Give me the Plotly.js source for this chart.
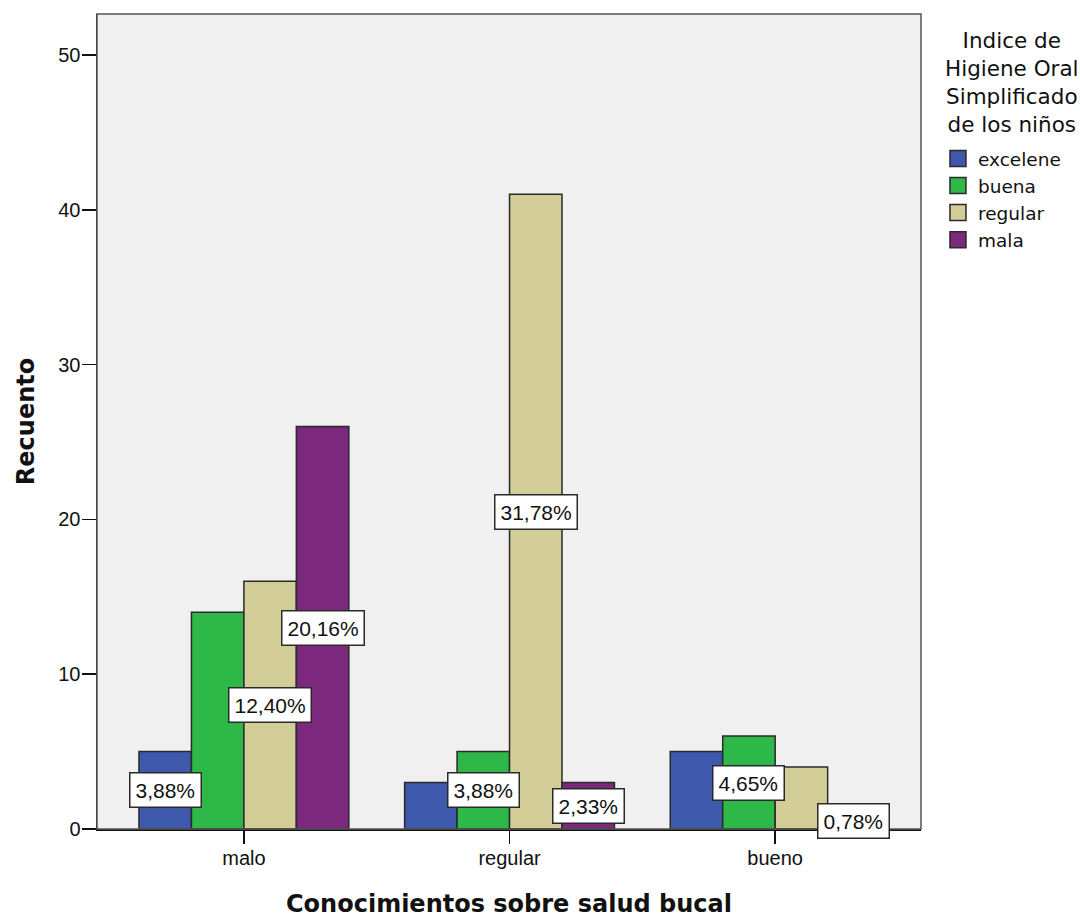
<!DOCTYPE html>
<html>
<head>
<meta charset="utf-8">
<script src="https://cdn.plot.ly/plotly-3.0.1.min.js"></script>
<style>
  html, body { margin: 0; padding: 0; background: #ffffff; }
  #chart { width: 1080px; height: 919px; }
</style>
</head>
<body>
<div id="chart"></div>
<script>
// ---- Data ----
const categories = ['malo', 'regular', 'bueno'];
const seriesNames = ['excelene', 'buena', 'regular', 'mala'];
const excelene = [5, 3, 5];
const buena = [14, 5, 6];
const regularSerie = [16, 41, 4];
const mala = [26, 3, 1];
// which bars carry a visible percentage label (as in the source chart)
const excelenteLabelShown = [true, false, false];
const buenaLabelShown = [false, true, true];
const regularLabelShown = [true, true, false];
const malaLabelShown = [true, true, true];

const legendTitle = 'Indice de<br>Higiene Oral<br>Simplificado<br>de los niños';
const xTitle = 'Conocimientos sobre salud bucal';
const yTitle = 'Recuento';

// ---- Style ----
const colors = ['#3E58AC', '#2EB848', '#D3CE97', '#7C287D'];
const edge = '#2a2a2a';
const bargap = 0.21;

const series = [excelene, buena, regularSerie, mala];
const shown = [excelenteLabelShown, buenaLabelShown, regularLabelShown, malaLabelShown];
const total = series.reduce((s, arr) => s + arr.reduce((a, b) => a + b, 0), 0);

const traces = [];
series.forEach((vals, i) => {
  traces.push({
    type: 'bar',
    name: seriesNames[i],
    x: categories,
    y: vals,
    marker: { color: colors[i], line: { color: edge, width: 1.5 } },
    showlegend: false,
    hoverinfo: 'x+y+name'
  });
});
// legend entries (square swatches)
series.forEach((vals, i) => {
  traces.push({
    type: 'scatter',
    mode: 'markers',
    name: seriesNames[i],
    x: [null],
    y: [null],
    marker: { symbol: 'square', size: 18, color: colors[i], line: { color: edge, width: 1.5 } },
    showlegend: true,
    hoverinfo: 'skip'
  });
});

const nS = series.length;
const w = (1 - bargap) / nS;
const annotations = [];
series.forEach((vals, i) => {
  vals.forEach((v, j) => {
    if (!shown[i][j]) return;
    const pct = (v / total * 100).toFixed(2).replace('.', ',') + '%';
    annotations.push({
      x: j + (i - (nS - 1) / 2) * w,
      y: v / 2,
      xref: 'x', yref: 'y',
      text: pct,
      showarrow: false,
      font: { family: 'Liberation Sans, Arial, sans-serif', size: 21, color: '#111' },
      bgcolor: '#ffffff',
      bordercolor: edge,
      borderwidth: 1.5,
      borderpad: 5,
      xanchor: 'center', yanchor: 'middle'
    });
  });
});
// legend title (centered multi-line, like the source)
annotations.push({
  xref: 'paper', yref: 'paper',
  x: 1.1104, y: 0.9853,
  xanchor: 'center', yanchor: 'top',
  align: 'center',
  showarrow: false,
  text: legendTitle,
  font: { family: 'DejaVu Sans, sans-serif', size: 21.5, color: '#111' }
});

const layout = {
  width: 1080,
  height: 919,
  margin: { l: 97, r: 159, t: 14, b: 90, autoexpand: false },
  paper_bgcolor: '#ffffff',
  plot_bgcolor: '#F0F0F0',
  barmode: 'group',
  bargap: bargap,
  bargroupgap: 0,
  font: { family: 'Liberation Sans, Arial, sans-serif', size: 20, color: '#111' },
  xaxis: {
    type: 'category',
    range: [-0.553, 2.549],
    showgrid: false,
    zeroline: false,
    showline: true,
    linecolor: '#111',
    linewidth: 1.5,
    ticks: 'outside',
    ticklen: 13,
    tickwidth: 1.5,
    tickcolor: '#111',
    automargin: false,
    ticklabelstandoff: -3,
    tickfont: { family: 'Liberation Sans, Arial, sans-serif', size: 20, color: '#111' },
    title: { text: xTitle, font: { family: 'DejaVu Sans, sans-serif', size: 24, color: '#111', weight: 'bold' }, standoff: 27 }
  },
  yaxis: {
    range: [0, 52.65],
    tickvals: [0, 10, 20, 30, 40, 50],
    showgrid: false,
    zeroline: false,
    showline: true,
    linecolor: '#111',
    linewidth: 1.5,
    ticks: 'outside',
    ticklen: 14,
    tickwidth: 1.5,
    tickcolor: '#111',
    automargin: false,
    ticklabelstandoff: -3,
    tickfont: { family: 'Liberation Sans, Arial, sans-serif', size: 20, color: '#111' },
    title: { text: yTitle, font: { family: 'DejaVu Sans, sans-serif', size: 24, color: '#111', weight: 'bold' }, standoff: 17 }
  },
  legend: {
    x: 1.0206, xanchor: 'left',
    y: 0.8454, yanchor: 'top',
    bgcolor: 'rgba(0,0,0,0)',
    font: { family: 'DejaVu Sans, sans-serif', size: 18.5, color: '#111' },
    itemwidth: 30,
    tracegroupgap: 0
  },
  shapes: [{
    type: 'rect', xref: 'paper', yref: 'paper', x0: 0, x1: 1, y0: 0, y1: 1,
    line: { color: '#555', width: 1.5 }, fillcolor: 'rgba(0,0,0,0)', layer: 'above'
  }],
  annotations: annotations
};

Plotly.newPlot('chart', traces, layout, { displayModeBar: false, staticPlot: true });
</script>
</body>
</html>
